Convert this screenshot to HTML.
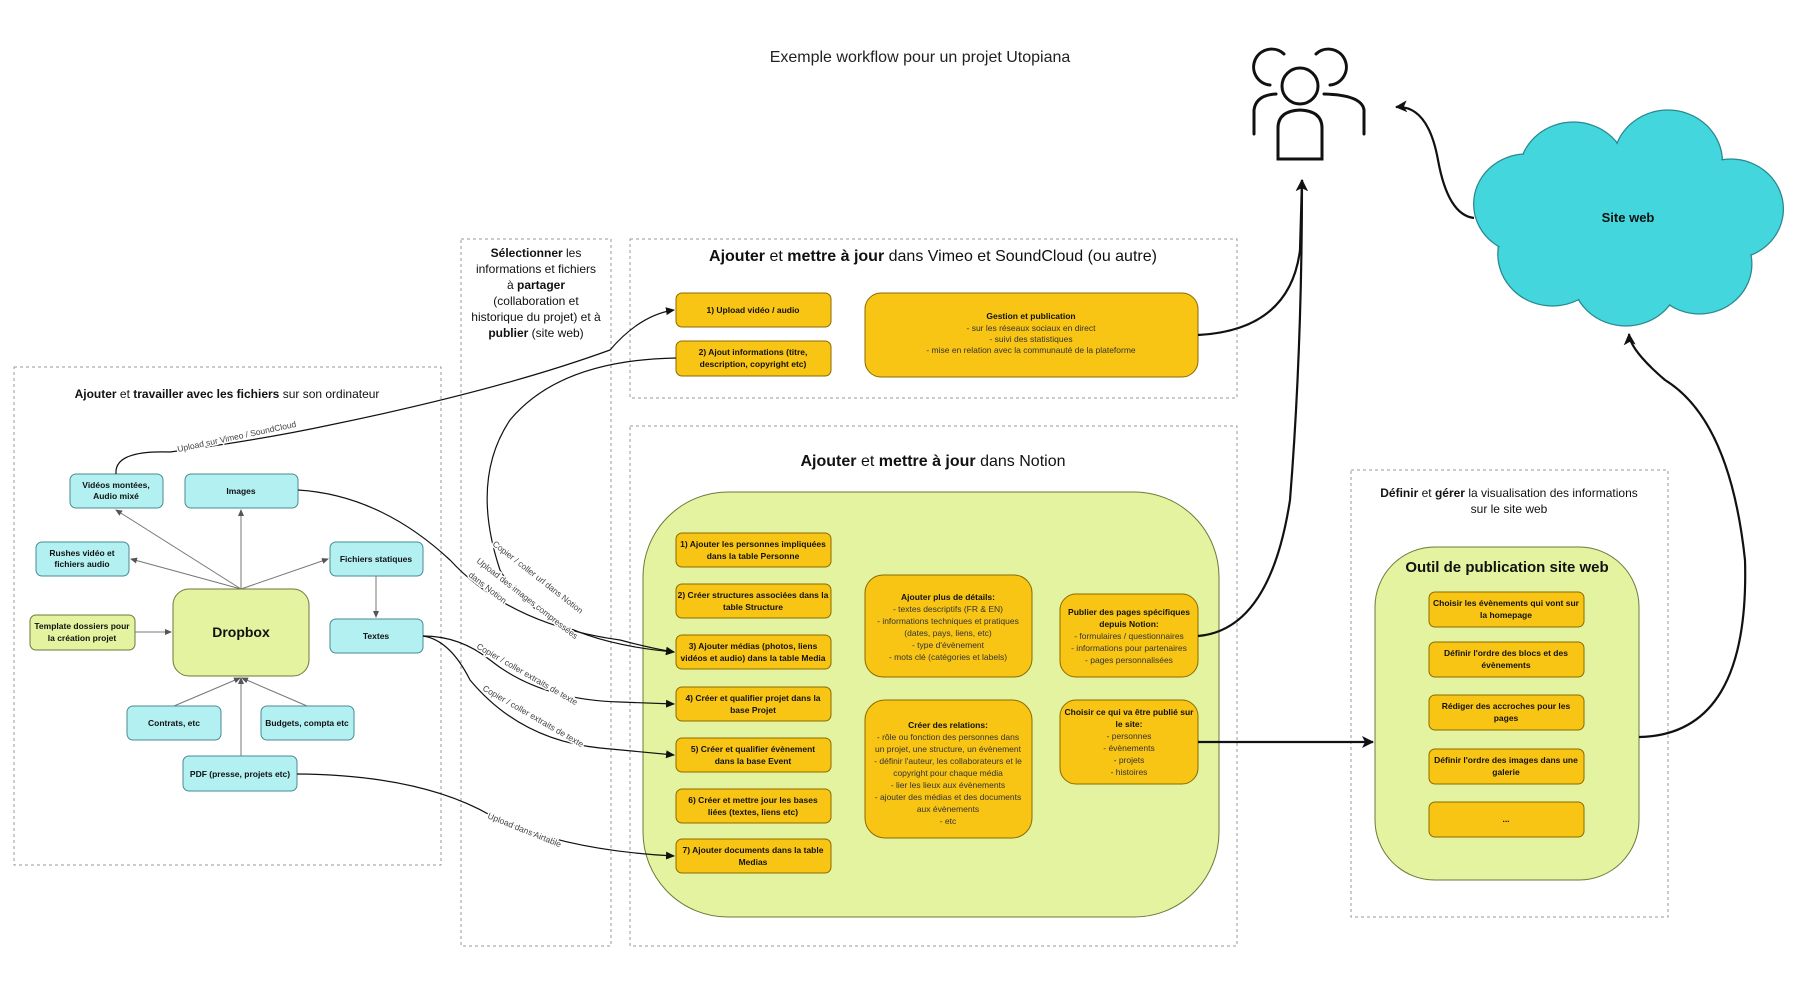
<!DOCTYPE html>
<html><head><meta charset="utf-8"><style>
html,body{margin:0;padding:0;background:#fff;}
svg{display:block;font-family:"Liberation Sans",sans-serif;}
.b{font-weight:bold;}
</style></head><body>
<svg width="1800" height="1002" viewBox="0 0 1800 1002" xmlns="http://www.w3.org/2000/svg">
<defs>
<marker id="a" markerWidth="10" markerHeight="10" refX="8" refY="5" orient="auto" markerUnits="userSpaceOnUse"><path d="M0,1 L9,5 L0,9 z" fill="#111"/></marker>
<marker id="g" markerWidth="8" markerHeight="8" refX="6" refY="4" orient="auto" markerUnits="userSpaceOnUse"><path d="M0,1 L7,4 L0,7 z" fill="#555"/></marker>
<marker id="A" markerWidth="14" markerHeight="14" refX="11" refY="7" orient="auto" markerUnits="userSpaceOnUse"><path d="M0,1 L12,7 L0,13 L3,7 z" fill="#111"/></marker>
</defs>

<text x="920" y="62" text-anchor="middle" font-size="16" fill="#222">Exemple workflow pour un projet Utopiana</text>

<!-- dashed containers -->
<g fill="none" stroke="#999" stroke-dasharray="3,3" stroke-width="1">
<rect x="14" y="367" width="427" height="498"/>
<rect x="461" y="239" width="150" height="707"/>
<rect x="630" y="239" width="607" height="159"/>
<rect x="630" y="426" width="607" height="520"/>
<rect x="1351" y="470" width="317" height="447"/>
</g>

<!-- container titles -->
<text x="227" y="398" text-anchor="middle" font-size="12" fill="#111"><tspan class="b">Ajouter</tspan> et <tspan class="b">travailler avec les fichiers</tspan> sur son ordinateur</text>
<g font-size="12" fill="#111" text-anchor="middle">
<text x="536" y="257"><tspan class="b">Sélectionner</tspan> les</text>
<text x="536" y="273">informations et fichiers</text>
<text x="536" y="289">à <tspan class="b">partager</tspan></text>
<text x="536" y="305">(collaboration et</text>
<text x="536" y="321">historique du projet) et à</text>
<text x="536" y="337"><tspan class="b">publier</tspan> (site web)</text>
</g>
<text x="933" y="261" text-anchor="middle" font-size="16" fill="#111"><tspan class="b">Ajouter</tspan> et <tspan class="b">mettre à jour</tspan> dans Vimeo et SoundCloud (ou autre)</text>
<text x="933" y="466" text-anchor="middle" font-size="16" fill="#111"><tspan class="b">Ajouter</tspan> et <tspan class="b">mettre à jour</tspan> dans Notion</text>
<text x="1509" y="497" text-anchor="middle" font-size="12" fill="#111"><tspan class="b">Définir</tspan> et <tspan class="b">gérer</tspan> la visualisation des informations</text>
<text x="1509" y="513" text-anchor="middle" font-size="12" fill="#111">sur le site web</text>

<!-- green containers -->
<rect x="643" y="492" width="576" height="425" rx="85" fill="#e4f3a0" stroke="#6b7a3a"/>
<rect x="1375" y="547" width="264" height="333" rx="60" fill="#e4f3a0" stroke="#6b7a3a"/>
<text x="1507" y="572" text-anchor="middle" font-size="15" class="b" fill="#111">Outil de publication site web</text>

<!-- cloud -->
<g transform="translate(1628,218) scale(1.05,1) translate(-1612,-234)">
<g fill="#43d6dc" stroke="#2a8890" stroke-width="1.2">
<circle cx="1560" cy="190" r="52"/><circle cx="1650" cy="178" r="52"/><circle cx="1710" cy="225" r="50"/>
<circle cx="1680" cy="280" r="50"/><circle cx="1610" cy="290" r="52"/><circle cx="1540" cy="270" r="52"/><circle cx="1515" cy="220" r="50"/>
</g>
<g fill="#43d6dc">
<circle cx="1560" cy="190" r="51"/><circle cx="1650" cy="178" r="51"/><circle cx="1710" cy="225" r="49"/>
<circle cx="1680" cy="280" r="49"/><circle cx="1610" cy="290" r="51"/><circle cx="1540" cy="270" r="51"/><circle cx="1515" cy="220" r="49"/>
<ellipse cx="1612" cy="232" rx="110" ry="70"/>
</g>
</g>
<text x="1628" y="222" text-anchor="middle" font-size="13" class="b" fill="#111">Site web</text>

<!-- people icon -->
<g fill="none" stroke="#111" stroke-width="3" stroke-linecap="round">
<circle cx="1300" cy="86" r="18"/>
<path d="M1278,159 L1278,128 Q1278,111 1300,110 Q1322,111 1322,128 L1322,159 Z"/>
<path d="M1270,85 A18,18 0 1 1 1284,54"/>
<path d="M1330,85 A18,18 0 1 0 1316,54"/>
<path d="M1254,134 L1254,110 Q1256,95 1276,94"/>
<path d="M1364,134 L1364,110 Q1362,95 1324,94"/>
</g>

<!-- nodes -->
<g stroke="#4a8a90" stroke-width="1" fill="#b3f0f2">
<rect x="70" y="474" width="93" height="34" rx="6"/>
<rect x="185" y="474" width="113" height="34" rx="6"/>
<rect x="36" y="542" width="93" height="34" rx="6"/>
<rect x="330" y="542" width="93" height="34" rx="6"/>
<rect x="330" y="619" width="93" height="34" rx="6"/>
<rect x="127" y="706" width="94" height="34" rx="6"/>
<rect x="261" y="706" width="93" height="34" rx="6"/>
<rect x="183" y="756" width="114" height="35" rx="6"/>
</g>
<g stroke="#6b7a3a" fill="#e4f3a0">
<rect x="30" y="615" width="105" height="35" rx="6"/>
<rect x="173" y="589" width="136" height="87" rx="16"/>
</g>
<g stroke="#8a6a00" fill="#f8c515">
<rect x="676" y="293" width="155" height="34" rx="6"/>
<rect x="676" y="341" width="155" height="35" rx="6"/>
<rect x="865" y="293" width="333" height="84" rx="16"/>
<rect x="676" y="533" width="155" height="34" rx="6"/>
<rect x="676" y="584" width="155" height="34" rx="6"/>
<rect x="676" y="635" width="155" height="34" rx="6"/>
<rect x="676" y="687" width="155" height="34" rx="6"/>
<rect x="676" y="738" width="155" height="34" rx="6"/>
<rect x="676" y="789" width="155" height="34" rx="6"/>
<rect x="676" y="839" width="155" height="34" rx="6"/>
<rect x="865" y="575" width="167" height="102" rx="18"/>
<rect x="865" y="700" width="167" height="138" rx="20"/>
<rect x="1060" y="594" width="138" height="83" rx="16"/>
<rect x="1060" y="700" width="138" height="84" rx="16"/>
<rect x="1429" y="592" width="155" height="35" rx="6"/>
<rect x="1429" y="642" width="155" height="35" rx="6"/>
<rect x="1429" y="695" width="155" height="35" rx="6"/>
<rect x="1429" y="749" width="155" height="35" rx="6"/>
<rect x="1429" y="802" width="155" height="35" rx="6"/>
</g>

<!-- node labels -->
<g font-size="8.5" class="b" fill="#111" text-anchor="middle">
<text x="116" y="488">Vidéos montées,</text><text x="116" y="499">Audio mixé</text>
<text x="241" y="494">Images</text>
<text x="82" y="556">Rushes vidéo et</text><text x="82" y="567">fichiers audio</text>
<text x="376" y="562">Fichiers statiques</text>
<text x="376" y="639">Textes</text>
<text x="174" y="726">Contrats, etc</text>
<text x="307" y="726">Budgets, compta etc</text>
<text x="240" y="777">PDF (presse, projets etc)</text>
<text x="82" y="629">Template dossiers pour</text><text x="82" y="641">la création projet</text>
<text x="241" y="637" font-size="14">Dropbox</text>

<text x="753" y="313">1) Upload vidéo / audio</text>
<text x="753" y="355">2) Ajout informations (titre,</text><text x="753" y="367">description, copyright etc)</text>
<text x="1031" y="319">Gestion et publication</text>
<text x="753" y="547">1) Ajouter les personnes impliquées</text><text x="753" y="559">dans la table Personne</text>
<text x="753" y="598">2) Créer structures associées dans la</text><text x="753" y="610">table Structure</text>
<text x="753" y="649">3) Ajouter médias (photos, liens</text><text x="753" y="661">vidéos et audio) dans la table Media</text>
<text x="753" y="701">4) Créer et qualifier projet dans la</text><text x="753" y="713">base Projet</text>
<text x="753" y="752">5) Créer et qualifier évènement</text><text x="753" y="764">dans la base Event</text>
<text x="753" y="803">6) Créer et mettre jour les bases</text><text x="753" y="815">liées (textes, liens etc)</text>
<text x="753" y="853">7) Ajouter documents dans la table</text><text x="753" y="865">Medias</text>
<text x="948" y="600">Ajouter plus de détails:</text>
<text x="948" y="728">Créer des relations:</text>
<text x="1129" y="615">Publier des pages spécifiques</text><text x="1129" y="627">depuis Notion:</text>
<text x="1129" y="715">Choisir ce qui va être publié sur</text><text x="1129" y="727">le site:</text>
<text x="1506" y="606">Choisir les évènements qui vont sur</text><text x="1506" y="618">la homepage</text>
<text x="1506" y="656">Définir l'ordre des blocs et des</text><text x="1506" y="668">évènements</text>
<text x="1506" y="709">Rédiger des accroches pour les</text><text x="1506" y="721">pages</text>
<text x="1506" y="763">Définir l'ordre des images dans une</text><text x="1506" y="775">galerie</text>
<text x="1506" y="822">...</text>
</g>
<g font-size="8.5" fill="#333" text-anchor="middle">
<text x="1031" y="331">- sur les réseaux sociaux en direct</text>
<text x="1031" y="342">- suivi des statistiques</text>
<text x="1031" y="353">- mise en relation avec la communauté de la plateforme</text>
<text x="948" y="612">- textes descriptifs (FR &amp; EN)</text>
<text x="948" y="624">- informations techniques et pratiques</text>
<text x="948" y="636">(dates, pays, liens, etc)</text>
<text x="948" y="648">- type d'évènement</text>
<text x="948" y="660">- mots clé (catégories et labels)</text>
<text x="948" y="740">- rôle ou fonction des personnes dans</text>
<text x="948" y="752">un projet, une structure, un évènement</text>
<text x="948" y="764">- définir l'auteur, les collaborateurs et le</text>
<text x="948" y="776">copyright pour chaque média</text>
<text x="948" y="788">- lier les lieux aux évènements</text>
<text x="948" y="800">- ajouter des médias et des documents</text>
<text x="948" y="812">aux évènements</text>
<text x="948" y="824">- etc</text>
<text x="1129" y="639">- formulaires / questionnaires</text>
<text x="1129" y="651">- informations pour partenaires</text>
<text x="1129" y="663">- pages personnalisées</text>
<text x="1129" y="739">- personnes</text>
<text x="1129" y="751">- évènements</text>
<text x="1129" y="763">- projets</text>
<text x="1129" y="775">- histoires</text>
</g>

<!-- gray dropbox arrows -->
<g stroke="#777" stroke-width="1" fill="none" marker-end="url(#g)">
<line x1="241" y1="589" x2="116" y2="510"/>
<line x1="241" y1="589" x2="241" y2="510"/>
<line x1="241" y1="589" x2="131" y2="559"/>
<line x1="241" y1="589" x2="328" y2="559"/>
<line x1="376" y1="576" x2="376" y2="617"/>
<line x1="135" y1="632" x2="171" y2="632"/>
<line x1="174" y1="706" x2="240" y2="678"/>
<line x1="307" y1="706" x2="242" y2="678"/>
<line x1="241" y1="756" x2="241" y2="678"/>
</g>

<!-- thin connectors -->
<g stroke="#111" stroke-width="1.2" fill="none" marker-end="url(#a)">
<path d="M116,474 Q114,450 170,452 Q260,440 330,425 Q500,390 610,350 Q640,315 674,310"/>
<path d="M676,358 Q560,360 510,420 Q470,480 500,570 Q540,640 674,652"/>
<path d="M298,490 Q380,495 450,560 Q510,625 620,640 Q650,648 674,652"/>
<path d="M423,636 Q460,636 490,660 Q540,700 620,702 L674,704"/>
<path d="M423,636 Q450,640 470,680 Q520,740 600,748 L674,755"/>
<path d="M297,774 Q420,775 490,815 Q560,850 674,856"/>
</g>
<!-- connector labels -->
<g font-size="8.5" fill="#444" stroke="#fff" stroke-width="3" paint-order="stroke">
<text transform="translate(178,452) rotate(-12)">Upload sur Vimeo / SoundCloud</text>
<text transform="translate(492,545) rotate(38)">Copier / coller url dans Notion</text>
<text transform="translate(476,562) rotate(38)">Upload des images compressées</text>
<text transform="translate(468,576) rotate(38)">dans Notion</text>
<text transform="translate(476,648) rotate(30)">Copier / coller extraits de texte</text>
<text transform="translate(482,690) rotate(30)">Copier / coller extraits de texte</text>
<text transform="translate(487,818) rotate(22)">Upload dans Airtable</text>
</g>

<!-- thick connectors -->
<g stroke="#111" stroke-width="2.2" fill="none" marker-end="url(#A)">
<path d="M1198,335 Q1290,330 1300,250 L1302,180"/>
<path d="M1198,636 Q1270,630 1290,500 Q1302,350 1302,180"/>
<path d="M1198,742 L1373,742"/>
<path d="M1639,737 Q1750,735 1745,560 Q1730,420 1665,380 Q1630,350 1629,334"/>
<path d="M1474,218 Q1448,215 1438,160 Q1428,105 1396,107"/>
</g>
</svg>
</body></html>
